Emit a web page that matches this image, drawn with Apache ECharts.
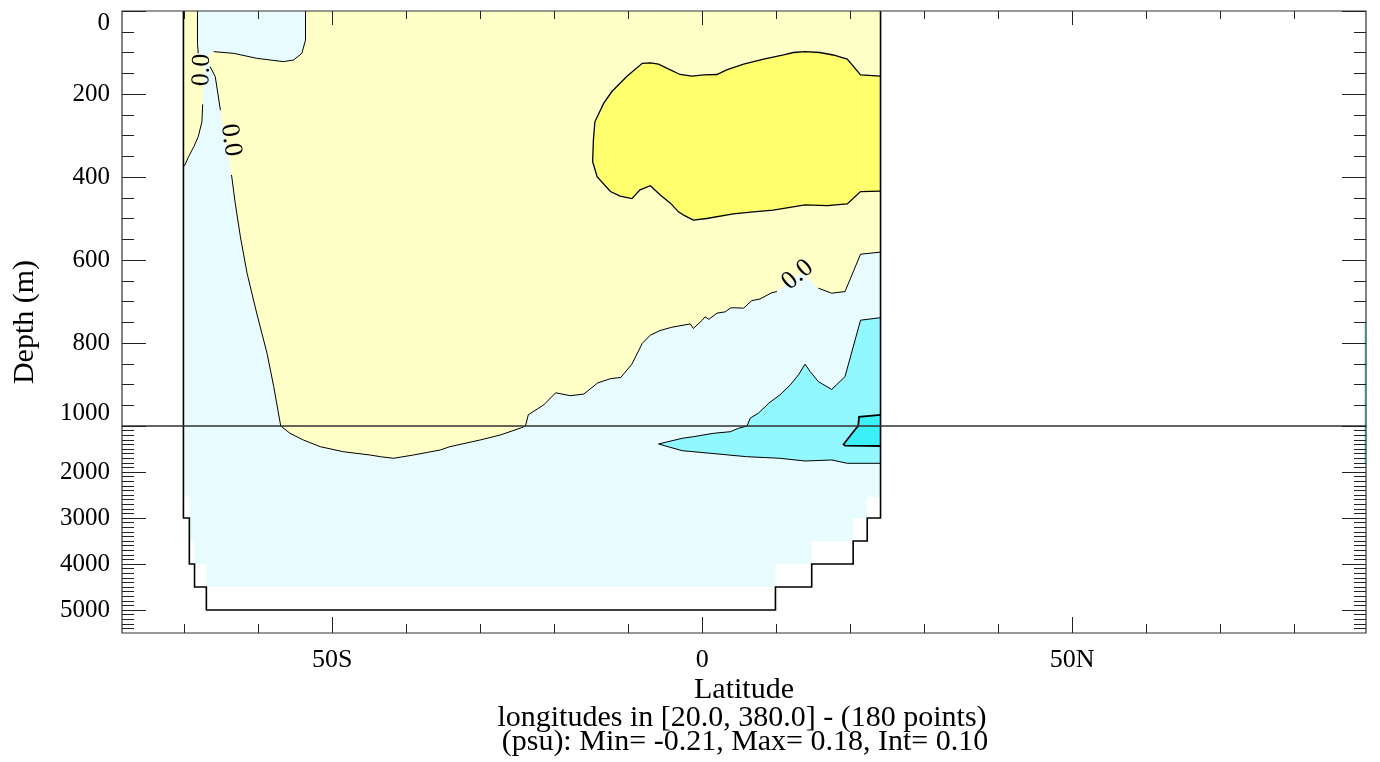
<!DOCTYPE html>
<html>
<head>
<meta charset="utf-8">
<title>Depth-latitude section</title>
<script src="https://cdn.jsdelivr.net/npm/echarts@6.0.0/dist/echarts.min.js"></script>
<style>
html,body{margin:0;padding:0;background:#ffffff;}
#chart{width:1380px;height:762px;}
</style>
</head>
<body>
<div id="chart"></div>
<script>
// ---------------- data (latitude in degrees, depth in metres) ----------------
const latMin = -78.4, latMax = 89.7;
const latMajorTicks = [-50, 0, 50];
const latMajorLabels = ['50S', '0', '50N'];
const latMinorTicks = [-70, -60, -40, -30, -20, -10, 10, 20, 30, 40, 60, 70, 80];
const depthUpperLabels = [0, 200, 400, 600, 800, 1000];
const depthLowerLabels = [2000, 3000, 4000, 5000];

// ocean cells that hold data (light cyan background, value < 0)
const oceanDomain = [[-70.1,0],[-70.1,2540],[-69.3,2540],[-69.3,3500],[-68.6,3500],[-68.6,4000],[-67.0,4000],[-67.0,4500],[9.9,4500],[9.9,4000],[14.8,4000],[14.8,3500],[20.4,3500],[20.4,3000],[22.3,3000],[22.3,2540],[24.1,2540],[24.1,0]];
// bottom topography / basin outline
const topoOutline = [[-70.1,0],[-70.1,3000],[-69.3,3000],[-69.3,4000],[-68.6,4000],[-68.6,4500],[-67.0,4500],[-67.0,5000],[9.9,5000],[9.9,4500],[14.8,4500],[14.8,4000],[20.4,4000],[20.4,3500],[22.3,3500],[22.3,3000],[24.1,3000],[24.1,0]];

// contour 0.0
const c0TopLeft = [[-68.2,0],[-68.2,78],[-68.1,102]];
const c0TopPatch = [[-53.6,0],[-53.6,70],[-54.1,102],[-55.2,118],[-56.6,122],[-60.2,114],[-63.3,102],[-66.0,98]];
const c0Saddle = [[-67.2,112]];
const c0LeftWedge = [[-67.5,225],[-67.6,267],[-68.1,303],[-68.7,327],[-69.4,351],[-69.9,371],[-70.1,375]];
const c0RightWedge = [[-66.5,134],[-65.8,158],[-65.1,239]];
const c0Main = [[-63.6,395],[-63.1,463],[-62.4,544],[-61.5,632],[-60.2,728],[-58.8,825],[-57.9,905],[-56.9,1005],
  [-55.7,1159],[-53.9,1304],[-51.6,1450],[-48.5,1559],[-44.9,1630],[-43.5,1667],[-41.7,1702],[-39.0,1630],[-35.4,1522],
  [-34.1,1450],[-30.0,1304],[-27.3,1196],[-24.4,1037],[-23.5,973],[-21.4,949],[-19.8,920],[-17.8,927],[-16.0,923],
  [-14.1,896],[-12.4,886],[-11.0,883],[-9.5,851],[-8.1,801],[-7.0,781],[-5.7,770],[-4.1,762],[-1.6,754],[-1.2,765],
  [0.0,745],[0.4,737],[0.9,743],[2.0,728],[3.1,725],[3.8,716],[4.2,715],[5.6,716],[6.7,698],[7.8,694],[9.4,679],[10.1,676]];
const c0UnderLabel = [[13.5,630]];
const c0East = [[15.7,668],[17.5,680],[19.3,676],[21.4,586],[24.1,581]];

// contour +0.1 (yellow core)
const c1Pos = [[24.1,157],[21.4,154],[19.6,116],[17.7,106],[15.9,100],[13.9,98],[12.3,100],[11.0,106],[8.3,116],[5.6,128],
  [3.3,142],[2.0,153],[0.2,154],[-1.4,157],[-3.0,153],[-4.3,142],[-5.9,128],[-7.0,125],[-8.1,126],[-10.2,158],[-12.2,194],
  [-13.3,222],[-14.5,267],[-14.7,311],[-14.8,363],[-14.2,399],[-12.4,435],[-11.1,446],[-9.5,452],[-8.4,431],[-7.0,421],
  [-5.7,443],[-4.3,463],[-3.2,484],[-2.5,492],[-1.2,504],[0.6,500],[4.2,489],[6.9,484],[9.6,480],[13.9,467],[16.9,469],
  [19.6,465],[21.4,435],[24.1,434]];

// contour -0.1
const c1NegUpper = [[-5.9,1391],[-2.7,1267],[-1.2,1233],[1.5,1159],[3.8,1124],[4.9,1050],[6.5,981],[7.6,969],[9.0,945],
  [10.5,925],[11.9,901],[13.0,877],[13.9,851],[14.6,869],[15.7,893],[17.5,912],[19.3,881],[21.4,745],[24.1,739]];
const c1NegLower = [[-5.9,1391],[-2.7,1537],[1.1,1593],[6.0,1667],[10.5,1702],[13.9,1761],[17.5,1739],[19.6,1811],[24.1,1811]];
// contour -0.2
const c2Neg = [[24.1,973],[21.2,978],[20.8,1050],[19.1,1398],[19.3,1428],[24.1,1435]];
// thin column of values at the northern edge
const northEdge = [[89.45,750],[89.7,750],[89.7,1810],[89.45,1810]];

// contour labels
const contourLabelText = ['0.0', '0.0', '0.0'];
const contourLabelPos = [[-67.6,142],[-63.7,311],[12.9,636]];

// ---------------- styling ----------------
const SERIF = '"Liberation Serif", "Times New Roman", serif';
const COL = { ocean:'#e8fcff', pos1:'#ffffc8', pos2:'#ffff6e', neg1:'#91f8ff', neg2:'#3cf0fa' };
const labelAngles = [88, -82, 40];

function range(a, b, s) { const r = []; for (let v = a; v <= b + 1e-9; v += s) r.push(Math.round(v * 1000) / 1000); return r; }
const upMajor = range(0, 1000, 200);
const upMinor = range(50, 950, 50).filter(v => v % 200 !== 0);
const loMajor = range(1000, 5000, 1000);
const loMinor = range(1100, 5400, 100).filter(v => v % 1000 !== 0);

const mainYellow = [].concat(c0TopPatch, c0Saddle, c0RightWedge, c0Main, c0UnderLabel, c0East, [[24.1,0]]);
const leftYellow = [].concat([[-70.1,0]], c0TopLeft, c0Saddle, c0LeftWedge);
const negPoly = c1NegUpper.concat(c1NegLower.slice().reverse());

function layer(withLabels) {
  return function (params, api) {
    const P = a => a.map(p => api.coord(p));
    const poly = (a, fill) => ({ type: 'polygon', shape: { points: P(a) }, style: { fill: fill, stroke: null } });
    const line = (a, w) => ({ type: 'polyline', shape: { points: P(a) }, style: { fill: null, stroke: '#000', lineWidth: w } });
    const ch = [
      poly(oceanDomain, COL.ocean),
      poly(leftYellow, COL.pos1),
      poly(mainYellow, COL.pos1),
      poly(c1Pos, COL.pos2),
      poly(negPoly, COL.neg1),
      poly(c2Neg, COL.neg2),
      poly(northEdge, COL.neg1),
      line(c0TopLeft, 1), line(c0TopPatch, 1), line(c0LeftWedge, 1), line(c0RightWedge, 1),
      line(c0Main, 1), line(c0East, 1),
      line(c1Pos, 1.3), line(c1NegUpper, 1), line(c1NegLower, 1), line(c2Neg, 1.8),
      line(topoOutline, 1.6)
    ];
    if (withLabels) {
      contourLabelPos.forEach((p, i) => {
        const c = api.coord(p);
        ch.push({ type: 'text', x: c[0], y: c[1], rotation: labelAngles[i] * Math.PI / 180,
          style: { text: contourLabelText[i], fontFamily: SERIF, fontSize: 26, fill: '#000', align: 'center', verticalAlign: 'middle' } });
      });
    }
    return { type: 'group', children: ch };
  };
}

function xAx(grid, pos, ticks, len, labels) {
  return {
    type: 'value', gridIndex: grid, position: pos, min: latMin, max: latMax, z: 6,
    axisLine: { show: false, onZero: false }, splitLine: { show: false },
    axisTick: { show: true, inside: true, length: len, customValues: ticks, lineStyle: { color: '#222', width: 1 } },
    axisLabel: labels ? {
      show: true, customValues: labels, margin: 14, fontFamily: SERIF, fontSize: 26, color: '#000',
      formatter: v => latMajorLabels[latMajorTicks.indexOf(Math.round(v))]
    } : { show: false }
  };
}
function yAx(grid, pos, min, max, ticks, len, labels, extra) {
  return {
    type: 'value', gridIndex: grid, position: pos, inverse: true, min: min, max: max, z: 6,
    axisLine: { show: false, onZero: false }, splitLine: { show: false },
    axisTick: { show: true, inside: true, length: len, customValues: ticks, lineStyle: { color: '#222', width: 1 } },
    axisLabel: labels ? Object.assign({ show: true, customValues: labels, margin: 12, fontFamily: SERIF, fontSize: 25, color: '#000',
      formatter: v => String(Math.round(v)) }, extra || {}) : { show: false }
  };
}

const chart = echarts.init(document.getElementById('chart'), null, { renderer: 'canvas' });
chart.setOption({
  animation: false,
  backgroundColor: '#ffffff',
  grid: [
    { left: 122, top: 11, width: 1244, height: 415, show: true, z: 5, borderColor: '#333', borderWidth: 1.2, backgroundColor: 'transparent' },
    { left: 122, top: 426, width: 1244, height: 207, show: true, z: 5, borderColor: '#333', borderWidth: 1.2, backgroundColor: 'transparent' }
  ],
  xAxis: [
    xAx(0, 'top', latMajorTicks, 14, null),
    xAx(0, 'top', latMinorTicks, 8, null),
    xAx(1, 'bottom', latMajorTicks, 16, latMajorTicks),
    xAx(1, 'bottom', latMinorTicks, 9, null)
  ],
  yAxis: [
    yAx(0, 'left', 0, 1000, upMajor, 24, depthUpperLabels, { verticalAlignMinLabel: 'top', verticalAlignMaxLabel: 'bottom' }),
    yAx(0, 'left', 0, 1000, upMinor, 12, null),
    yAx(0, 'right', 0, 1000, upMajor, 24, null),
    yAx(0, 'right', 0, 1000, upMinor, 12, null),
    yAx(1, 'left', 1000, 5500, loMajor, 24, depthLowerLabels),
    yAx(1, 'left', 1000, 5500, loMinor, 12, null),
    yAx(1, 'right', 1000, 5500, loMajor, 24, null),
    yAx(1, 'right', 1000, 5500, loMinor, 12, null)
  ],
  series: [
    { type: 'custom', xAxisIndex: 0, yAxisIndex: 0, clip: true, silent: true, z: 2, data: [[0, 0]], renderItem: layer(true) },
    { type: 'custom', xAxisIndex: 2, yAxisIndex: 4, clip: true, silent: true, z: 2, data: [[0, 1000]], renderItem: layer(false) }
  ],
  graphic: [
    { type: 'text', x: 25, y: 322, rotation: Math.PI / 2,
      style: { text: 'Depth (m)', fontFamily: SERIF, fontSize: 30, fill: '#000', align: 'center', verticalAlign: 'middle', textAlign: 'center', textVerticalAlign: 'middle' } },
    { type: 'text', x: 744, y: 690,
      style: { text: 'Latitude', fontFamily: SERIF, fontSize: 30, fill: '#000', align: 'center', verticalAlign: 'middle', textAlign: 'center', textVerticalAlign: 'middle' } },
    { type: 'text', x: 742, y: 718,
      style: { text: 'longitudes in [20.0, 380.0] - (180 points)', fontFamily: SERIF, fontSize: 30, fill: '#000', align: 'center', verticalAlign: 'middle', textAlign: 'center', textVerticalAlign: 'middle' } },
    { type: 'text', x: 745, y: 742,
      style: { text: '(psu): Min= -0.21, Max= 0.18, Int= 0.10', fontFamily: SERIF, fontSize: 30, fill: '#000', align: 'center', verticalAlign: 'middle', textAlign: 'center', textVerticalAlign: 'middle' } }
  ]
});
</script>
</body>
</html>
